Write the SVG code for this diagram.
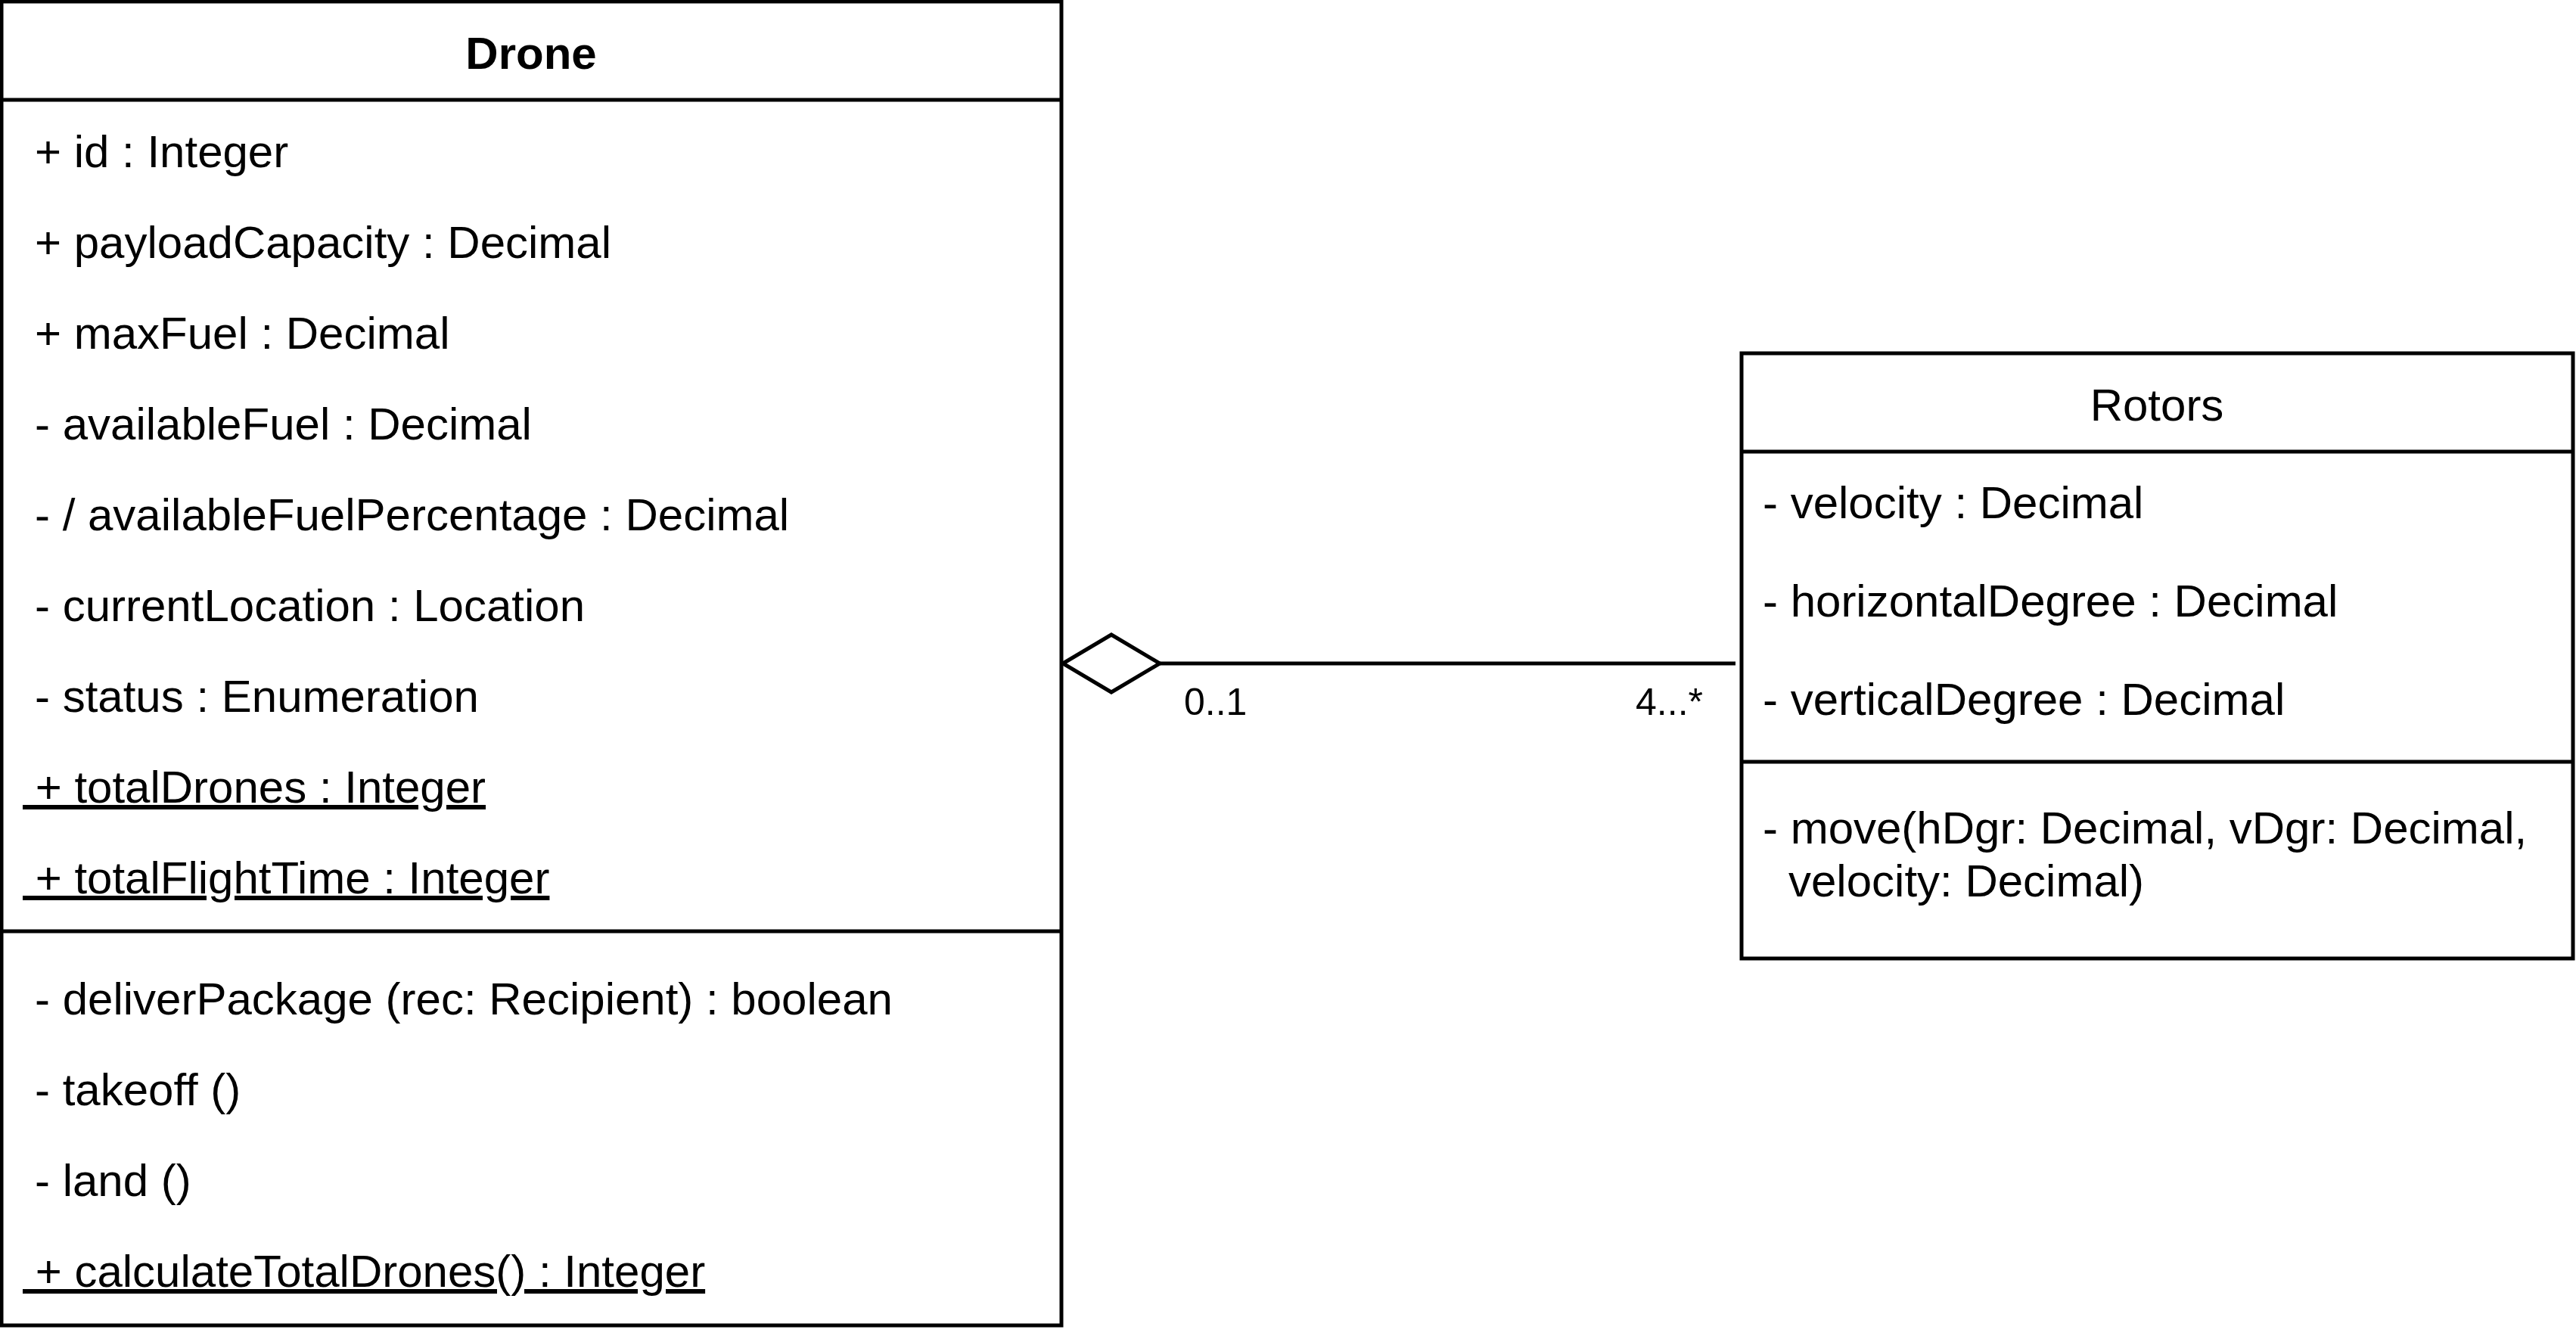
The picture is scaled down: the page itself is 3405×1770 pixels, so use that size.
<svg xmlns="http://www.w3.org/2000/svg" width="3405" height="1770" viewBox="0 0 3405 1770">
<style>
.box{fill:#fff;stroke:#000;stroke-width:5}
.sep{stroke:#000;stroke-width:5;fill:none}
.t{font-family:"Liberation Sans",Arial,Helvetica,sans-serif;font-size:60px;fill:#000}
.title{font-weight:bold;text-anchor:middle}
.ctr{text-anchor:middle}
.u{text-decoration:underline;white-space:pre}
.lbl{font-family:"Liberation Sans",Arial,Helvetica,sans-serif;font-size:50px;fill:#000}
</style>
<rect width="3405" height="1770" fill="#fff"/>
<g id="connectors">
<line class="sep" x1="1533" y1="877" x2="2294" y2="877"/>
<polygon points="1405,877 1469,839 1533,877 1469,915" fill="#fff" stroke="#000" stroke-width="5"/>
<text class="lbl" x="1565" y="945">0..1</text>
<text class="lbl" x="2251" y="945" text-anchor="end">4...*</text>
</g>
<g id="drone">
<rect class="box" x="2" y="2" width="1401" height="1750"/>
<line class="sep" x1="2" y1="132" x2="1403" y2="132"/>
<line class="sep" x1="2" y1="1231" x2="1403" y2="1231"/>
<text class="t title" x="702" y="91">Drone</text>
<text class="t" x="46" y="221">+ id : Integer</text>
<text class="t" x="46" y="341">+ payloadCapacity : Decimal</text>
<text class="t" x="46" y="461">+ maxFuel : Decimal</text>
<text class="t" x="46" y="581">- availableFuel : Decimal</text>
<text class="t" x="46" y="701">- / availableFuelPercentage : Decimal</text>
<text class="t" x="46" y="821">- currentLocation : Location</text>
<text class="t" x="46" y="941">- status : Enumeration</text>
<text class="t u" x="30" y="1061" xml:space="preserve"> + totalDrones : Integer</text>
<text class="t u" x="30" y="1181" xml:space="preserve"> + totalFlightTime : Integer</text>
<text class="t" x="46" y="1341">- deliverPackage (rec: Recipient) : boolean</text>
<text class="t" x="46" y="1461">- takeoff ()</text>
<text class="t" x="46" y="1581">- land ()</text>
<text class="t u" x="30" y="1701" xml:space="preserve"> + calculateTotalDrones() : Integer</text>
</g>
<g id="rotors">
<rect class="box" x="2302" y="467" width="1099" height="800"/>
<line class="sep" x1="2302" y1="597" x2="3401" y2="597"/>
<line class="sep" x1="2302" y1="1007" x2="3401" y2="1007"/>
<text class="t ctr" x="2851" y="556">Rotors</text>
<text class="t" x="2330" y="685">- velocity : Decimal</text>
<text class="t" x="2330" y="815">- horizontalDegree : Decimal</text>
<text class="t" x="2330" y="945">- verticalDegree : Decimal</text>
<text class="t" x="2330" y="1115">- move(hDgr: Decimal, vDgr: Decimal,</text>
<text class="t" x="2364" y="1185">velocity: Decimal)</text>
</g>
</svg>
